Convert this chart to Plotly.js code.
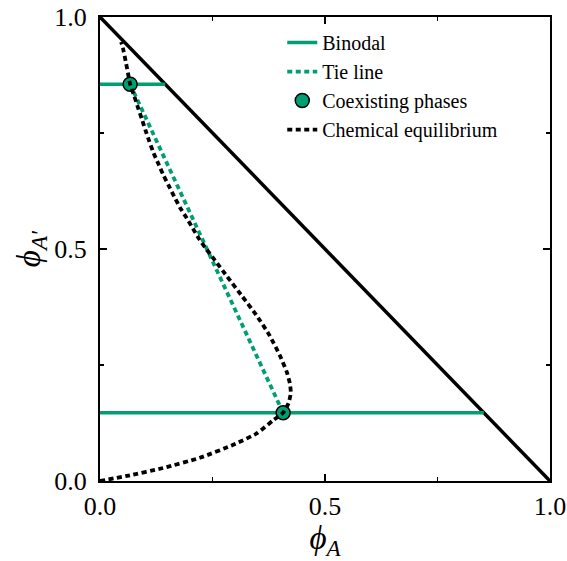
<!DOCTYPE html>
<html>
<head>
<meta charset="utf-8">
<script src="https://cdn.plot.ly/plotly-3.0.1.min.js"></script>
<style>html,body{margin:0;padding:0;background:#fff;}#chart{width:567px;height:561px;}</style>
</head>
<body>
<div id="chart"></div>
<script>
// Chemical equilibrium curve
const chemX = [0, 0.06, 0.14, 0.222, 0.296, 0.349, 0.385, 0.407, 0.419, 0.424, 0.422, 0.415, 0.4, 0.376, 0.347, 0.316, 0.283, 0.252, 0.236, 0.22, 0.206, 0.193, 0.178, 0.165, 0.153, 0.141, 0.13, 0.119, 0.11, 0.101, 0.093, 0.085, 0.076, 0.067, 0.062, 0.057, 0.051, 0.047];
const chemY = [0, 0.011, 0.028, 0.05, 0.078, 0.103, 0.131, 0.147, 0.168, 0.19, 0.21, 0.235, 0.27, 0.315, 0.358, 0.398, 0.44, 0.48, 0.5, 0.522, 0.545, 0.566, 0.589, 0.613, 0.636, 0.659, 0.683, 0.707, 0.731, 0.756, 0.78, 0.803, 0.83, 0.855, 0.88, 0.905, 0.933, 0.946];
// Coexisting phases
const phaseX = [0.067, 0.407];
const phaseY = [0.855, 0.147];
// Binodal lines (horizontal, from axis to the diagonal)
const binodalY = [0.855, 0.147];
// Boundary diagonal phi_A + phi_A' = 1
const diagX = [0, 1];
const diagY = [1, 0];
const tickVals = [0, 0.5, 1];
const tickText = ['0.0', '0.5', '1.0'];
const minorVals = [0.25, 0.75];

const green = '#009e73';
const font = '"Liberation Serif", "Times New Roman", serif';

const binX = [], binYs = [];
binodalY.forEach((y, i) => { binX.push(0, 1 - y); binYs.push(y, y); if (i < binodalY.length - 1) { binX.push(null); binYs.push(null); } });

const traces = [
  {x: diagX, y: diagY, mode: 'lines', line: {color: '#000', width: 3.5}, showlegend: false, hoverinfo: 'skip'},
  {x: binX, y: binYs, mode: 'lines', line: {color: green, width: 3.5}, name: 'Binodal', connectgaps: false},
  {x: phaseX, y: phaseY, mode: 'lines', line: {color: green, width: 3.8, dash: '5px,3.5px'}, name: 'Tie line'},
  {x: phaseX, y: phaseY, mode: 'markers', marker: {color: green, size: 14, line: {color: '#000', width: 1.5}}, name: 'Coexisting phases', cliponaxis: false},
  {x: chemX, y: chemY, mode: 'lines', line: {color: '#000', width: 3.8, dash: '5px,3.5px', shape: 'spline', smoothing: 0.5}, name: 'Chemical equilibrium'}
];

const axisBase = {
  range: [0, 1], tickvals: tickVals, ticktext: tickText,
  showline: true, linecolor: '#000', linewidth: 2, mirror: 'ticks',
  ticks: 'inside', ticklen: 7, tickwidth: 1.2, tickcolor: '#000',
  minor: {tickvals: minorVals, ticks: 'inside', ticklen: 4, tickwidth: 1.2, tickcolor: '#000'},
  showgrid: false, zeroline: false,
  tickfont: {family: font, size: 26, color: '#000'}
};

const layout = {
  width: 567, height: 561,
  margin: {l: 100, r: 17, t: 17, b: 80},
  paper_bgcolor: '#fff', plot_bgcolor: '#fff',
  font: {family: font, color: '#000'},
  xaxis: Object.assign({}, axisBase, {ticklabelstandoff: 1, title: {text: '<i>ϕ</i><sub><i>A</i></sub>', font: {family: font, size: 33}, standoff: 0}}),
  yaxis: Object.assign({}, axisBase, {ticklabelstandoff: 6, title: {text: '<i>ϕ</i><sub><i>A′</i></sub>', font: {family: font, size: 33}, standoff: 4}}),
  legend: {x: 0.405, y: 0.987, xanchor: 'left', yanchor: 'top', bgcolor: 'rgba(0,0,0,0)', font: {family: font, size: 20, color: '#000'}, tracegroupgap: 0, itemwidth: 30},
  showlegend: true
};

Plotly.newPlot('chart', traces, layout, {displayModeBar: false, staticPlot: true});
</script>
</body>
</html>
